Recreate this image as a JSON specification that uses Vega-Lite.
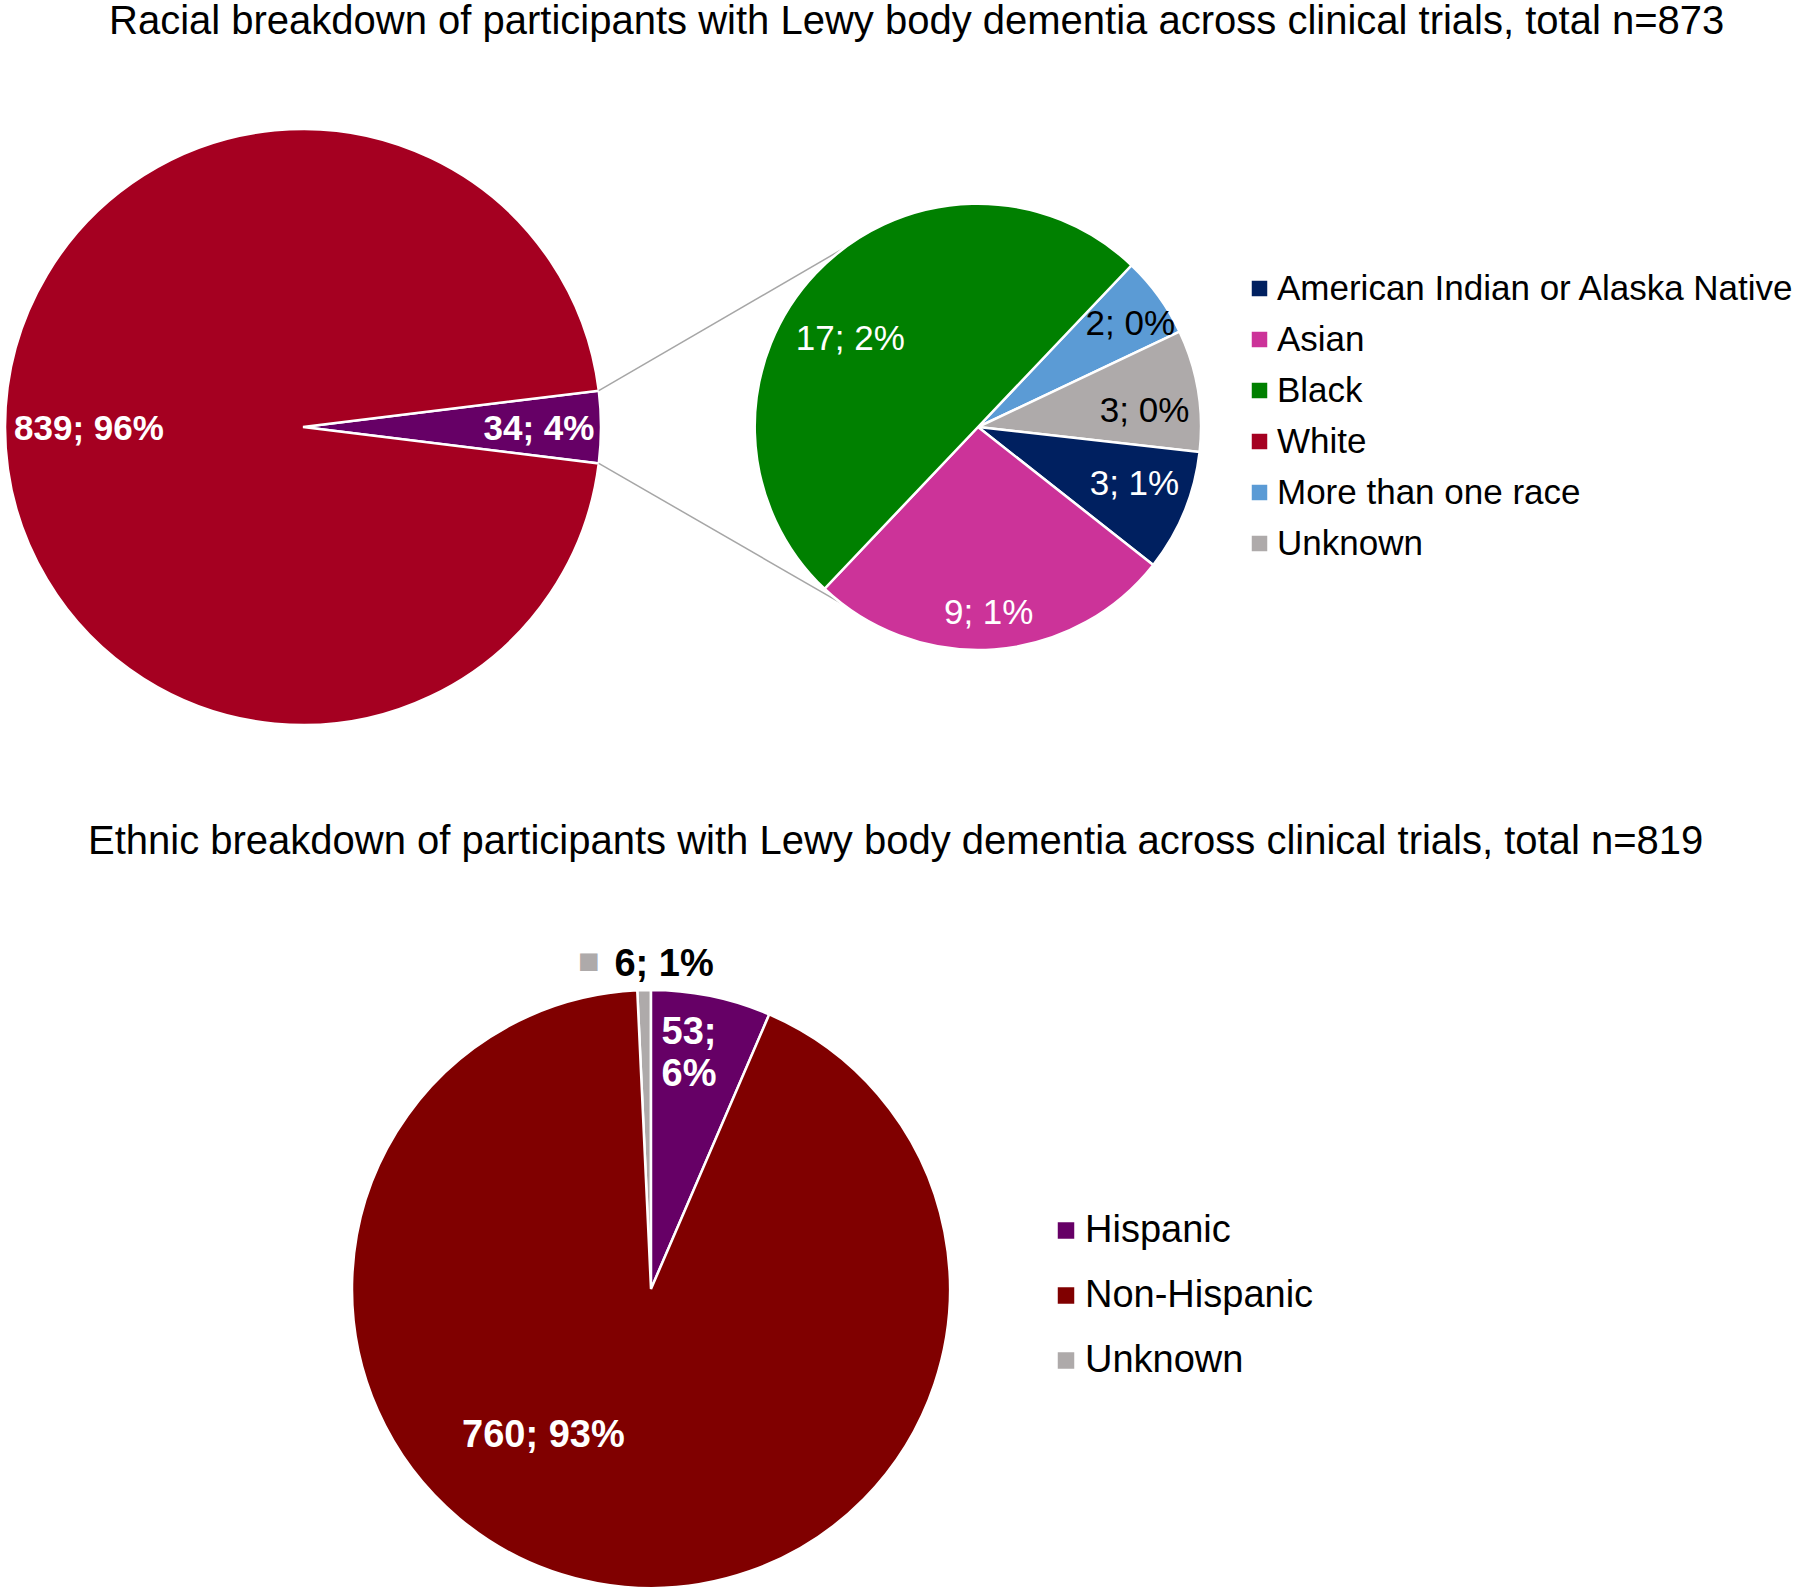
{
  "$schema": "https://vega.github.io/schema/vega-lite/v6.json",
  "padding": {"left": 0, "top": 2, "right": 0, "bottom": 0},
  "background": "white",
  "config": {
    "view": {"stroke": null},
    "font": "Liberation Sans",
    "title": {"font": "Liberation Sans", "fontSize": 40, "fontWeight": "normal", "color": "black"},
    "text": {"font": "Liberation Sans", "baseline": "middle", "align": "center"},
    "legend": {
      "title": null,
      "labelFont": "Liberation Sans",
      "labelColor": "black",
      "labelLimit": 800,
      "symbolType": "square",
      "symbolStrokeWidth": 0,
      "symbolOpacity": 1,
      "padding": 0
    }
  },
  "resolve": {"scale": {"color": "independent", "theta": "independent"}, "legend": {"color": "independent"}},
  "vconcat": [
    {
      "title": {"text": "Racial breakdown of participants with Lewy body dementia across clinical trials, total n=873", "anchor": "start", "frame": "group", "dx": 104, "offset": 82},
      "spacing": 153,
      "bounds": "flush",
      "resolve": {"scale": {"color": "independent", "theta": "independent"}, "legend": {"color": "independent"}},
      "hconcat": [
        {
          "width": 596,
          "height": 596,
          "layer": [
            {
              "data": {"values": [
                {"group": "Other races", "n": 34, "pct": 4},
                {"group": "White", "n": 839, "pct": 96}
              ]},
              "transform": [
                {"window": [{"op": "row_number", "as": "idx"}]},
                {"calculate": "datum.n + '; ' + datum.pct + '%'", "as": "label"}
              ],
              "encoding": {
                "theta": {"field": "n", "type": "quantitative", "stack": true, "scale": {"range": [1.4485, 7.7317]}},
                "order": {"field": "idx", "type": "quantitative"}
              },
              "layer": [
                {
                  "mark": {"type": "arc", "outerRadius": 298, "stroke": "white", "strokeWidth": 2.5},
                  "encoding": {
                    "color": {"field": "group", "type": "nominal", "scale": {"domain": ["Other races", "White"], "range": ["#660066", "#A50021"]}, "legend": null}
                  }
                },
                {
                  "mark": {"type": "text", "radius": 236, "dy": 2, "fontSize": 35, "fontWeight": "bold", "color": "white"},
                  "encoding": {"text": {"condition": {"test": "datum.group === 'Other races'", "field": "label"}, "value": ""}}
                },
                {
                  "mark": {"type": "text", "radius": 214, "dy": 2, "fontSize": 35, "fontWeight": "bold", "color": "white"},
                  "encoding": {"text": {"condition": {"test": "datum.group === 'White'", "field": "label"}, "value": ""}}
                }
              ]
            },
            {
              "data": {"values": [{}]},
              "mark": {"type": "rule", "color": "#A6A6A6", "strokeWidth": 1.5},
              "encoding": {
                "x": {"datum": 0.9926, "type": "quantitative", "scale": {"domain": [-1, 1], "nice": false, "zero": false}, "axis": null},
                "y": {"datum": -0.1218, "type": "quantitative", "scale": {"domain": [-1, 1], "nice": false, "zero": false, "reverse": true}, "axis": null},
                "x2": {"datum": 1.8285},
                "y2": {"datum": -0.6077}
              }
            },
            {
              "data": {"values": [{}]},
              "mark": {"type": "rule", "color": "#A6A6A6", "strokeWidth": 1.5},
              "encoding": {
                "x": {"datum": 0.9926, "type": "quantitative"},
                "y": {"datum": 0.1218, "type": "quantitative"},
                "x2": {"datum": 1.8084},
                "y2": {"datum": 0.5930}
              }
            }
          ]
        },
        {
          "width": 448,
          "height": 596,
          "data": {"values": [
            {"race": "More than one race", "n": 2, "pct": 0},
            {"race": "Unknown", "n": 3, "pct": 0},
            {"race": "American Indian or Alaska Native", "n": 3, "pct": 1},
            {"race": "Asian", "n": 9, "pct": 1},
            {"race": "Black", "n": 17, "pct": 2}
          ]},
          "transform": [
            {"window": [{"op": "row_number", "as": "idx"}]},
            {"calculate": "datum.n + '; ' + datum.pct + '%'", "as": "label"}
          ],
          "encoding": {
            "theta": {"field": "n", "type": "quantitative", "stack": true, "scale": {"range": [0.7592, 7.0424]}},
            "order": {"field": "idx", "type": "quantitative"}
          },
          "layer": [
            {
              "mark": {"type": "arc", "outerRadius": 223, "stroke": "white", "strokeWidth": 2.5},
              "encoding": {
                "color": {
                  "field": "race", "type": "nominal",
                  "scale": {
                    "domain": ["American Indian or Alaska Native", "Asian", "Black", "White", "More than one race", "Unknown"],
                    "range": ["#002060", "#CC3399", "#008000", "#A50021", "#5B9BD5", "#AEAAAA"]
                  },
                  "legend": {"orient": "none", "legendX": 488, "legendY": 142, "labelFontSize": 35, "symbolSize": 240, "rowPadding": 15, "labelOffset": 0}
                }
              }
            },
            {
              "mark": {"type": "text", "radius": 185, "dx": 2.5, "dy": 5.8, "fontSize": 35, "color": "black"},
              "encoding": {"text": {"condition": {"test": "datum.race === 'More than one race'", "field": "label"}, "value": ""}}
            },
            {
              "mark": {"type": "text", "radius": 167.5, "dx": 1.3, "dy": 11.5, "fontSize": 35, "color": "black"},
              "encoding": {"text": {"condition": {"test": "datum.race === 'Unknown'", "field": "label"}, "value": ""}}
            },
            {
              "mark": {"type": "text", "radius": 166, "dx": 2.9, "dy": -5.8, "fontSize": 35, "color": "white"},
              "encoding": {"text": {"condition": {"test": "datum.race === 'American Indian or Alaska Native'", "field": "label"}, "value": ""}}
            },
            {
              "mark": {"type": "text", "radius": 184, "dx": -2.6, "dy": 2, "fontSize": 35, "color": "white"},
              "encoding": {"text": {"condition": {"test": "datum.race === 'Asian'", "field": "label"}, "value": ""}}
            },
            {
              "mark": {"type": "text", "radius": 156, "dx": -14.5, "dy": 19.7, "fontSize": 35, "color": "white"},
              "encoding": {"text": {"condition": {"test": "datum.race === 'Black'", "field": "label"}, "value": ""}}
            }
          ]
        }
      ]
    },
    {
      "title": {"text": "Ethnic breakdown of participants with Lewy body dementia across clinical trials, total n=819", "anchor": "start", "frame": "group", "dx": 83, "offset": 82},
      "width": 1292,
      "height": 596,
      "data": {"values": [
        {"eth": "Unknown", "n": 6, "pct": 1},
        {"eth": "Hispanic", "n": 53, "pct": 6},
        {"eth": "Non-Hispanic", "n": 760, "pct": 93}
      ]},
      "transform": [
        {"window": [{"op": "row_number", "as": "idx"}]},
        {"calculate": "datum.n + '; ' + datum.pct + '%'", "as": "label"}
      ],
      "encoding": {
        "theta": {"field": "n", "type": "quantitative", "stack": true, "scale": {"range": [-0.04603, 6.23716]}},
        "order": {"field": "idx", "type": "quantitative"}
      },
      "layer": [
        {
          "mark": {"type": "arc", "outerRadius": 299, "stroke": "white", "strokeWidth": 2.5},
          "encoding": {
            "color": {
              "field": "eth", "type": "nominal",
              "scale": {"domain": ["Hispanic", "Non-Hispanic", "Unknown"], "range": ["#660066", "#800000", "#AEAAAA"]},
              "legend": {"orient": "none", "legendX": 1042, "legendY": 220.5, "labelFontSize": 38, "symbolSize": 272, "rowPadding": 27, "labelOffset": 0}
            }
          }
        },
        {
          "mark": {"type": "text", "radius": 324, "dx": 20.5, "dy": 0, "fontSize": 38, "fontWeight": "bold", "color": "black"},
          "encoding": {"text": {"condition": {"test": "datum.eth === 'Unknown'", "field": "label"}, "value": ""}}
        },
        {
          "mark": {"type": "text", "radius": 329, "dx": -54.5, "dy": 2, "fontSize": 36, "color": "#AEAAAA"},
          "encoding": {"text": {"condition": {"test": "datum.eth === 'Unknown'", "value": "■"}, "value": ""}}
        },
        {
          "mark": {"type": "text", "radius": 240, "dx": -10.5, "dy": -21, "fontSize": 38, "fontWeight": "bold", "color": "white", "lineBreak": " ", "lineHeight": 42},
          "encoding": {"text": {"condition": {"test": "datum.eth === 'Hispanic'", "field": "label"}, "value": ""}}
        },
        {
          "mark": {"type": "text", "radius": 177.3, "dx": -75.8, "dy": -27, "fontSize": 38, "fontWeight": "bold", "color": "white"},
          "encoding": {"text": {"condition": {"test": "datum.eth === 'Non-Hispanic'", "field": "label"}, "value": ""}}
        }
      ]
    }
  ],
  "spacing": 92
}
